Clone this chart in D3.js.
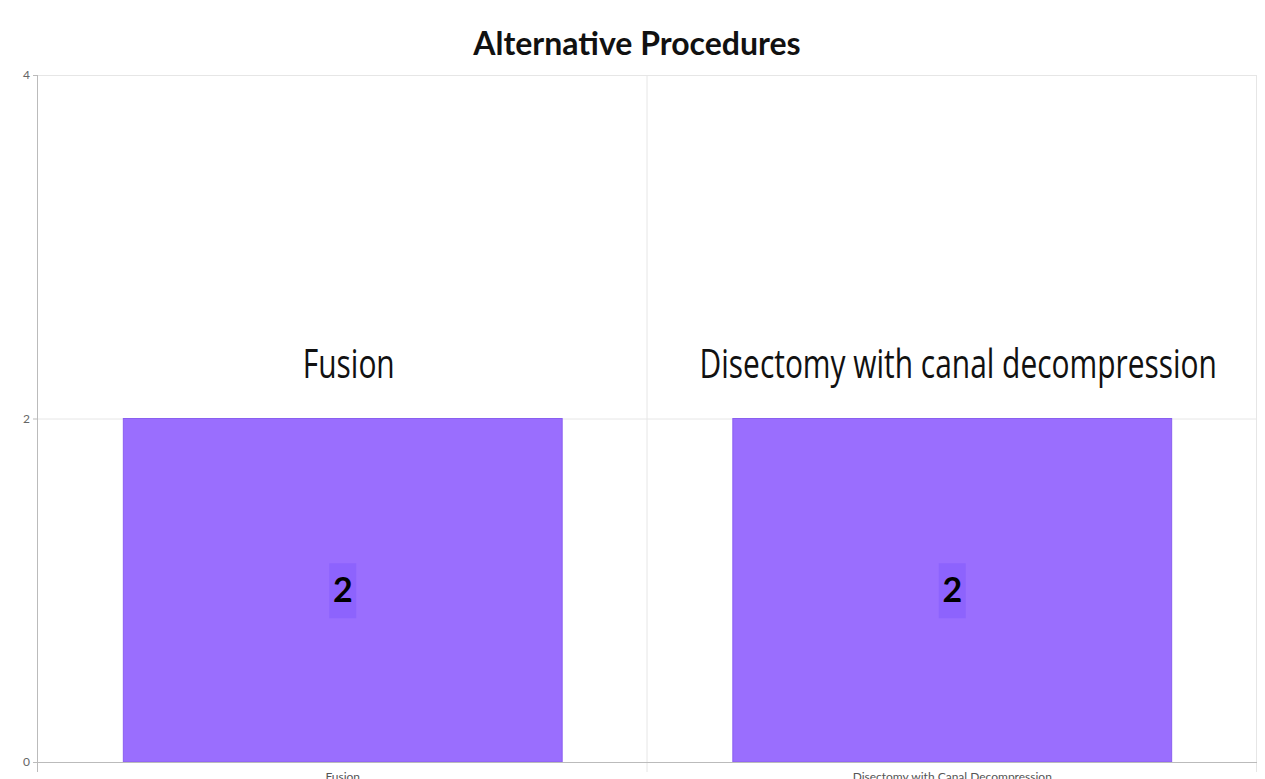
<!DOCTYPE html>
<html>
<head>
<meta charset="utf-8">
<script src="https://cdn.jsdelivr.net/npm/d3@7"></script>
<style>
  body { margin: 0; background: #fff; }
  svg { display: block; }
</style>
</head>
<body>
<main></main>
<script>
const categories = ["Fusion", "Disectomy with Canal Decompression"];
const barTitles = ["Fusion", "Disectomy with canal decompression"];
const values = [2, 2];
const yTicks = [0, 2, 4];

const w = 1265, h = 779;
const mLeft = 38, mRight = 1257, mTop = 75, mBottom = 762;

const svg = d3.select("main").append("svg").attr("width", w).attr("height", h);

const x = d3.scaleBand().domain(categories).range([mLeft, mRight]).paddingInner(0).paddingOuter(0);
const y = d3.scaleLinear().domain([0, 4]).range([mBottom, mTop]);

// grid
svg.append("g").selectAll("line")
  .data(yTicks.filter(d => d > 0))
  .enter().append("line")
  .attr("x1", mLeft).attr("x2", mRight)
  .attr("y1", d => y(d) + 0.5).attr("y2", d => y(d) + 0.5)
  .attr("stroke", "#e6e6e6");

const vLines = categories.map(c => x(c)).concat([mRight]);
svg.append("g").selectAll("line")
  .data(vLines.slice(1))
  .enter().append("line")
  .attr("x1", d => d - 0.5).attr("x2", d => d - 0.5)
  .attr("y1", mTop).attr("y2", mBottom + 10)
  .attr("stroke", "#e6e6e6");

// bars
const barW = x.bandwidth() * 0.72;
svg.append("g").selectAll("rect")
  .data(values)
  .enter().append("rect")
  .attr("x", (d, i) => x(categories[i]) + (x.bandwidth() - barW) / 2)
  .attr("y", d => y(d))
  .attr("width", barW)
  .attr("height", d => mBottom - y(d))
  .attr("fill", "#9a6efe")
  .attr("stroke", "#8a5ff0")
  .attr("stroke-width", 1);

// big titles above bars
svg.append("g").selectAll("text")
  .data(barTitles)
  .enter().append("text")
  .attr("transform", (d, i) => `translate(${x(categories[i]) + x.bandwidth() / 2 + 6},${y(values[i]) - 41}) scale(0.73,1)`)
  .attr("text-anchor", "middle")
  .attr("font-family", "Open Sans")
  .attr("font-size", 41)
  .attr("fill", "#111")
  .text(d => d);

// value labels
const vl = svg.append("g").selectAll("g")
  .data(values)
  .enter().append("g")
  .attr("transform", (d, i) => `translate(${x(categories[i]) + x.bandwidth() / 2},${y(d / 2)})`);
vl.append("rect")
  .attr("x", -13.5).attr("y", -27).attr("width", 27).attr("height", 55)
  .attr("fill", "#8d63fd");
vl.append("text")
  .attr("text-anchor", "middle")
  .attr("dy", 12)
  .attr("font-family", "Lato")
  .attr("font-weight", "bold")
  .attr("font-size", 34)
  .attr("fill", "#000")
  .text(d => d);

// axes
const axisY = d3.axisLeft(y).tickValues(yTicks).tickFormat(d3.format("d")).tickSize(5).tickPadding(3);
const gy = svg.append("g").attr("transform", `translate(${mLeft},0)`).call(axisY);
gy.select(".domain").attr("stroke", "#bbb").attr("d", `M-0.5,${mTop}V${mBottom + 10}`);
gy.selectAll(".tick line").attr("stroke", "#bbb");
gy.selectAll(".tick text").attr("font-family", "Lato").attr("font-size", 12).attr("fill", "#666");

const axisX = d3.axisBottom(x).tickSize(0).tickPadding(10);
const gx = svg.append("g").attr("transform", `translate(0,${mBottom})`).call(axisX);
gx.select(".domain").attr("stroke", "#bbb").attr("d", `M${mLeft},0.5H${mRight}`);
gx.selectAll(".tick text").attr("font-family", "Lato").attr("font-size", 12).attr("fill", "#555");

// title
svg.append("text")
  .attr("x", 637).attr("y", 55)
  .attr("text-anchor", "middle")
  .attr("font-family", "Lato")
  .attr("font-weight", "bold")
  .attr("font-size", 32)
  .attr("fill", "#111")
  .text("Alternative Procedures");
</script>
</body>
</html>
